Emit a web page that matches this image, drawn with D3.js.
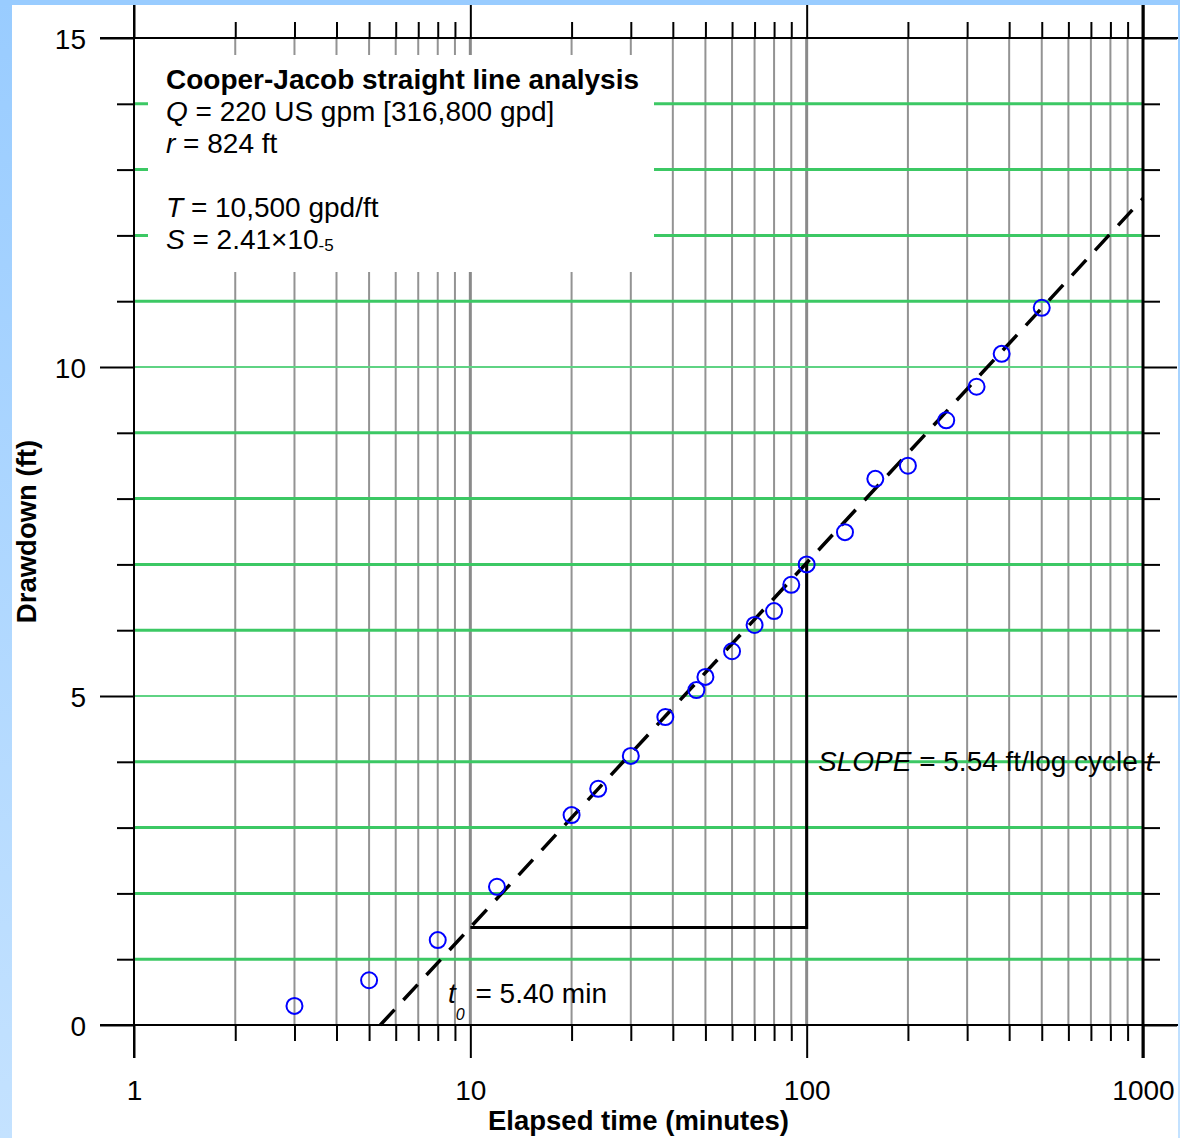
<!DOCTYPE html>
<html>
<head>
<meta charset="utf-8">
<script src="https://cdn.jsdelivr.net/npm/d3@7"></script>
<style>
  html, body { margin: 0; padding: 0; background: #fff; }
  svg { display: block; }
  text { font-family: "Liberation Sans", Arial, Helvetica, sans-serif; fill: #000; }
</style>
</head>
<body>
<svg id="chart" width="1180" height="1138"></svg>
<script>
// Pumping-test observations: elapsed time (minutes) and drawdown (ft)
const timeMin = [3, 5, 8, 12, 20, 24, 30, 38, 47, 50, 60, 70, 80, 90, 100, 130, 160, 200, 260, 320, 380, 500];
const drawdownFt = [0.29, 0.68, 1.29, 2.10, 3.19, 3.59, 4.09, 4.68, 5.09, 5.29, 5.68, 6.08, 6.29, 6.69, 7.0, 7.49, 8.30, 8.50, 9.19, 9.70, 10.20, 10.90];

// Cooper-Jacob fit parameters
const t0 = 5.40;            // minutes, intercept at zero drawdown
const slopePerCycle = 5.54; // ft per log cycle
const fitTimes = [t0, 1000];
const slopeTimes = [10, 100];

// Axis ticks
const xMajorTicks = [1, 10, 100, 1000];
const xMinorTicks = [2,3,4,5,6,7,8,9, 20,30,40,50,60,70,80,90, 200,300,400,500,600,700,800,900];
const yMajorTicks = [0, 5, 10, 15];
const yMinorTicks = [1,2,3,4,6,7,8,9,11,12,13,14];
const yGridValues = [1,2,3,4,5,6,7,8,9,10,11,12,13,14];

const svg = d3.select("#chart");
const W = 1180, H = 1138;

// Blue page frame
const defs = svg.append("defs");
const grad = defs.append("linearGradient").attr("id", "frameGrad")
  .attr("x1", 0).attr("y1", 0).attr("x2", 0).attr("y2", 1);
grad.append("stop").attr("offset", "0%").attr("stop-color", "#99ccff");
grad.append("stop").attr("offset", "100%").attr("stop-color", "#c4e2ff");
svg.append("rect").attr("x", 0).attr("y", 0).attr("width", 12).attr("height", H).attr("fill", "url(#frameGrad)");
svg.append("rect").attr("x", 0).attr("y", 0).attr("width", W).attr("height", 5).attr("fill", "#99ccff");
svg.append("rect").attr("x", W - 2).attr("y", 0).attr("width", 2).attr("height", H).attr("fill", "url(#frameGrad)");

const x = d3.scaleLog().domain([1, 1000]).range([134, 1143]);
const y = d3.scaleLinear().domain([0, 15]).range([1025, 38]);
const [x0, x1] = x.range();
const [yb, yt] = y.range();

const fitY = t => slopePerCycle * Math.log10(t / t0);

// Vertical grid lines
const grid = svg.append("g");
grid.selectAll("line.vminor").data(xMinorTicks).join("line")
  .attr("x1", d => x(d)).attr("x2", d => x(d)).attr("y1", yt).attr("y2", yb)
  .attr("stroke", "#939393").attr("stroke-width", 2);
grid.selectAll("line.vmajor").data([10, 100]).join("line")
  .attr("x1", d => x(d)).attr("x2", d => x(d)).attr("y1", yt).attr("y2", yb)
  .attr("stroke", "#8a8a8a").attr("stroke-width", 3);

// Horizontal green grid lines
grid.selectAll("line.h").data(yGridValues).join("line")
  .attr("x1", x0).attr("x2", x1).attr("y1", d => y(d)).attr("y2", d => y(d))
  .attr("stroke", d => d % 5 === 0 ? "#5fd383" : "#3cc864")
  .attr("stroke-width", d => d % 5 === 0 ? 2 : 3);

// Axes (ticks only; frame lines drawn separately)
function styleAxis(g, showLabels) {
  g.select(".domain").remove();
  g.selectAll(".tick line").attr("stroke", "#000").attr("stroke-width", 2);
  g.selectAll(".tick text").style("font-size", "28px").attr("fill", "#000");
  if (!showLabels) g.selectAll(".tick text").remove();
}
svg.append("g").attr("transform", `translate(${x0},0)`)
  .call(d3.axisLeft(y).tickValues(yMinorTicks).tickSize(17).tickFormat(""))
  .call(g => styleAxis(g, false));
svg.append("g").attr("transform", `translate(${x0},0)`)
  .call(d3.axisLeft(y).tickValues(yMajorTicks).tickSize(34).tickPadding(14).tickFormat(d3.format("d")))
  .call(g => styleAxis(g, true))
  .call(g => g.selectAll(".tick text").attr("dy", "0.36em"));
svg.append("g").attr("transform", `translate(${x1},0)`)
  .call(d3.axisRight(y).tickValues(yMinorTicks).tickSize(17).tickFormat(""))
  .call(g => styleAxis(g, false));
svg.append("g").attr("transform", `translate(${x1},0)`)
  .call(d3.axisRight(y).tickValues(yMajorTicks).tickSize(34).tickFormat(""))
  .call(g => styleAxis(g, false));
svg.append("g").attr("transform", `translate(0,${yb})`)
  .call(d3.axisBottom(x).tickValues(xMinorTicks).tickSize(16).tickFormat(""))
  .call(g => styleAxis(g, false));
svg.append("g").attr("transform", `translate(0,${yb})`)
  .call(d3.axisBottom(x).tickValues(xMajorTicks).tickSize(33).tickPadding(22).tickFormat(d3.format("d")))
  .call(g => styleAxis(g, true));
svg.append("g").attr("transform", `translate(0,${yt})`)
  .call(d3.axisTop(x).tickValues(xMinorTicks).tickSize(16).tickFormat(""))
  .call(g => styleAxis(g, false));
svg.append("g").attr("transform", `translate(0,${yt})`)
  .call(d3.axisTop(x).tickValues(xMajorTicks).tickSize(33).tickFormat(""))
  .call(g => styleAxis(g, false));

// Frame lines extending past the plot area
const frame = svg.append("g").attr("stroke", "#000").attr("stroke-width", 2);
frame.append("line").attr("x1", x0).attr("x2", x0).attr("y1", 5).attr("y2", yb + 33);
frame.append("line").attr("x1", x1).attr("x2", x1).attr("y1", 5).attr("y2", yb + 33).attr("stroke-width", 3);
frame.append("line").attr("x1", 100).attr("x2", 1178).attr("y1", yb).attr("y2", yb);
frame.append("line").attr("x1", 100).attr("x2", 1178).attr("y1", yt).attr("y2", yt);

// Parameter box
svg.append("rect").attr("x", 148).attr("y", 55).attr("width", 506).attr("height", 217).attr("fill", "#fff");
const info = svg.append("g").style("font-size", "28px");
info.append("text").attr("x", 166).attr("y", 89).style("font-weight", "bold")
  .text("Cooper-Jacob straight line analysis");
const q = info.append("text").attr("x", 166).attr("y", 121);
q.append("tspan").style("font-style", "italic").text("Q");
q.append("tspan").text(" = 220 US gpm [316,800 gpd]");
const r = info.append("text").attr("x", 166).attr("y", 153);
r.append("tspan").style("font-style", "italic").text("r");
r.append("tspan").text(" = 824 ft");
const tt = info.append("text").attr("x", 166).attr("y", 217);
tt.append("tspan").style("font-style", "italic").text("T");
tt.append("tspan").text(" = 10,500 gpd/ft");
const s = info.append("text").attr("x", 166).attr("y", 249);
s.append("tspan").style("font-style", "italic").text("S");
s.append("tspan").text(" = 2.41×10");
s.append("tspan").style("font-size", "17px").attr("dy", 2).text("-5");

// Slope construction
svg.append("path")
  .attr("d", d3.line().x(d => x(d[0])).y(d => y(d[1]))([
    [slopeTimes[0], fitY(slopeTimes[0])],
    [slopeTimes[1], fitY(slopeTimes[0])],
    [slopeTimes[1], fitY(slopeTimes[1])]
  ]))
  .attr("fill", "none").attr("stroke", "#000").attr("stroke-width", 3);

// Fitted straight line
svg.append("path")
  .attr("d", d3.line().x(d => x(d)).y(d => y(fitY(d)))(fitTimes))
  .attr("fill", "none").attr("stroke", "#000").attr("stroke-width", 3.5)
  .attr("stroke-dasharray", "21,13");

// Observations
svg.append("g").selectAll("circle").data(timeMin.map((t, i) => [t, drawdownFt[i]])).join("circle")
  .attr("cx", d => x(d[0])).attr("cy", d => y(d[1])).attr("r", 8)
  .attr("fill", "none").attr("stroke", "#0000ff").attr("stroke-width", 2);

// Annotations
const sl = svg.append("text").attr("x", 818).attr("y", 771).style("font-size", "28px");
sl.append("tspan").style("font-style", "italic").text("SLOPE");
sl.append("tspan").text(" = 5.54 ft/log cycle ");
sl.append("tspan").style("font-style", "italic").text("t");

const tz = svg.append("text").attr("x", 448).attr("y", 1003).style("font-size", "28px");
tz.append("tspan").style("font-style", "italic").text("t");
tz.append("tspan").style("font-style", "italic").style("font-size", "16px").attr("dy", 17).text("0");
tz.append("tspan").attr("dy", -17).attr("dx", 3).text(" = 5.40 min");

// Axis titles
svg.append("text").attr("x", (x0 + x1) / 2).attr("y", 1130).attr("text-anchor", "middle")
  .style("font-size", "27.5px").style("font-weight", "bold").text("Elapsed time (minutes)");
svg.append("text").attr("transform", `translate(36,${(yt + yb) / 2}) rotate(-90)`).attr("text-anchor", "middle")
  .style("font-size", "27.5px").style("font-weight", "bold").text("Drawdown (ft)");
</script>
</body>
</html>
